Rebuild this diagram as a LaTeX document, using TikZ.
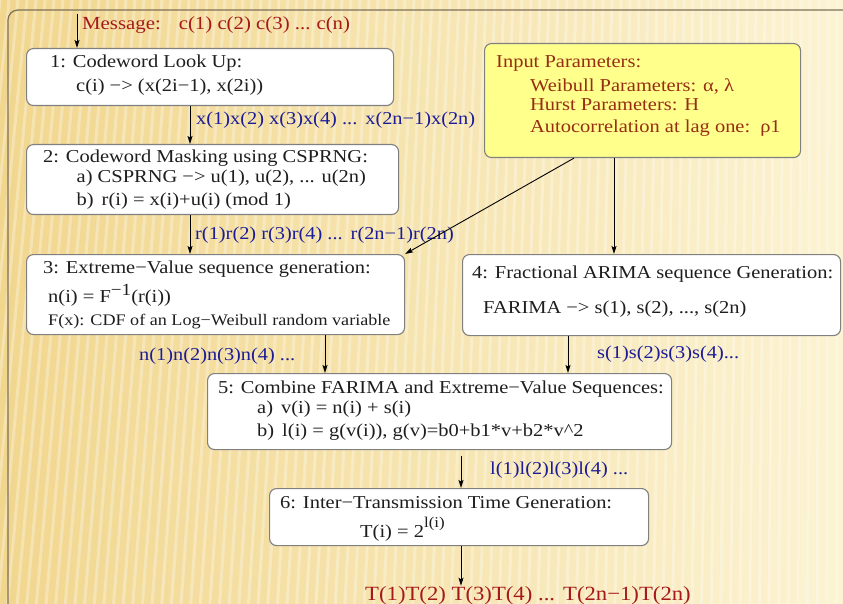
\documentclass[tikz,border=0pt]{standalone}
\usepackage{fontspec}
\setmainfont{Liberation Serif}[FakeStretch=1.125]
\usetikzlibrary{arrows.meta,calc}
\definecolor{bgL}{RGB}{241,214,142}
\definecolor{bgR}{RGB}{252,243,210}
\definecolor{framec}{RGB}{125,112,88}
\definecolor{boxline}{RGB}{128,128,128}
\definecolor{inkc}{RGB}{30,30,30}
\definecolor{bluec}{RGB}{28,28,150}
\definecolor{redc}{RGB}{165,25,25}
\definecolor{parc}{RGB}{150,45,20}
\definecolor{yel}{RGB}{255,255,140}
\tikzset{
  box/.style={draw=boxline, line width=1.1pt, fill=white, rounded corners=7pt,
              anchor=north west, inner sep=0pt},
  txt/.style={anchor=base west, inner sep=0pt, text=inkc, font=\fontsize{18.2}{20}\selectfont},
  ptxt/.style={txt, text=parc},
  lbl/.style={anchor=base west, inner sep=0pt, text=bluec, font=\fontsize{18.1}{20}\selectfont},
  rlbl/.style={lbl, text=redc},
  arr/.style={draw=black, line width=0.9pt, -{Stealth[length=8pt,width=5pt,inset=1.5pt]}},
}
\begin{document}
\begin{tikzpicture}[x=1pt,y=-1pt]
\useasboundingbox (0,0) rectangle (843,604);
% striped background
\begin{scope}
  \clip (0,0) rectangle (843,604);
  \shade[left color=bgL, right color=bgR] (0,0) rectangle (843,604);
  \foreach \i in {0,9,...,900}
    \draw[white, opacity=0.3, line width=3pt] (\i,0) -- ({\i-60*(1-\i/843)},604);
\end{scope}
\draw[framec, line width=1.2pt, rounded corners=10pt] (8,606) -- (8,10) -- (846,10);

% boxes
\node[box, minimum width=367pt, minimum height=57pt] (b1) at (26,48) {};
\node[box, minimum width=372pt, minimum height=70pt] (b2) at (26,144) {};
\node[box, minimum width=378pt, minimum height=80pt] (b3) at (26,254) {};
\node[box, fill=yel, minimum width=316pt, minimum height=114pt] (inp) at (484,43) {};
\node[box, minimum width=378pt, minimum height=81pt] (b4) at (462,254) {};
\node[box, minimum width=464pt, minimum height=76pt] (b5) at (207,373) {};
\node[box, minimum width=379pt, minimum height=57pt] (b6) at (269,488) {};

% box texts
\node[txt] (t1a) at (50,67.7) {1: Codeword Look Up:};
\node[txt] (t1b) at (76,91.7) {c(i) −> (x(2i−1), x(2i))};
\node[txt] (t2a) at (43,163) {2: Codeword Masking using CSPRNG:};
\node[txt] (t2b) at (76.5,183) {a) CSPRNG −> u(1), u(2), ... u(2n)};
\node[txt] (t2c) at (76.5,206) {b)\hspace{8pt}r(i) = x(i)+u(i) (mod 1)};
\node[txt] (t3a) at (43,273) {3: Extreme−Value sequence generation:};
\node[txt] (t3b) at (48,302.7) {n(i) = F\raisebox{0.42em}{\fontsize{17}{17}\selectfont −1}(r(i))};
\node[txt, font=\fontsize{16.1}{18}\selectfont] (t3c) at (48,325) {F(x): CDF of an Log−Weibull random variable};
\node[ptxt] (tpa) at (496,68) {Input Parameters:};
\node[ptxt] (tpb) at (530,92) {Weibull Parameters: α, λ};
\node[ptxt] (tpc) at (530,111) {Hurst Parameters: H};
\node[ptxt] (tpd) at (530,133) {Autocorrelation at lag one:\hspace{10pt}ρ1};
\node[txt] (t4a) at (472,278) {4: Fractional ARIMA sequence Generation:};
\node[txt] (t4b) at (483,313) {FARIMA −> s(1), s(2), ..., s(2n)};
\node[txt] (t5a) at (218,393) {5: Combine FARIMA and Extreme−Value Sequences:};
\node[txt] (t5b) at (257,413) {a)\hspace{8pt}v(i) = n(i) + s(i)};
\node[txt] (t5c) at (257,436) {b)\hspace{8pt}l(i) = g(v(i)), g(v)=b0+b1*v+b2*v\^{}2};
\node[txt] (t6a) at (280,508) {6: Inter−Transmission Time Generation:};
\node[txt] (t6b) at (360,537) {T(i) = 2\raisebox{0.5em}{\fontsize{15}{15}\selectfont l(i)}};

% sequence labels
\node[rlbl, font=\fontsize{18.5}{20}\selectfont] (msg) at (82,30) {Message:\hspace{18pt}c(1) c(2) c(3) ...\hspace{6pt}c(n)};
\node[lbl] (lx) at (196,125) {x(1)x(2) x(3)x(4) ...\hspace{8pt}x(2n−1)x(2n)};
\node[lbl] (lr) at (195,240) {r(1)r(2) r(3)r(4) ...\hspace{8pt}r(2n−1)r(2n)};
\node[lbl] (ln) at (139,360) {n(1)n(2)n(3)n(4) ...};
\node[lbl] (ls) at (597,358) {s(1)s(2)s(3)s(4)...};
\node[lbl] (ll) at (490,474) {l(1)l(2)l(3)l(4) ...};
\node[rlbl, font=\fontsize{20.2}{22}\selectfont] (out) at (365,600) {T(1)T(2) T(3)T(4) ...\hspace{8pt}T(2n−1)T(2n)};

% connectors
\coordinate (msgtop) at (77,14);
\coordinate (a12) at ([xshift=164pt]b1.south west);
\coordinate (a23) at ([xshift=164pt]b2.south west);
\coordinate (ap3) at ([xshift=90pt]inp.south west);
\coordinate (ap4) at ([xshift=130pt]inp.south west);
\coordinate (a35) at ([xshift=299pt]b3.south west);
\coordinate (a45) at ([xshift=106pt]b4.south west);
\coordinate (a56) at ([xshift=254pt,yshift=-6pt]b5.south west);
\coordinate (a6o) at ([xshift=192pt]b6.south west);
\draw[arr] (msgtop) -- (msgtop |- b1.north);
\draw[arr] (a12) -- (a12 |- b2.north);
\draw[arr] (a23) -- (a23 |- b3.north);
\draw[arr] (ap3) -- (b3.north east);
\draw[arr] (ap4) -- (ap4 |- b4.north);
\draw[arr] (a35) -- (a35 |- b5.north);
\draw[arr] (a45) -- (a45 |- b5.north);
\draw[arr] (a56) -- (a56 |- b6.north);
\draw[arr] (a6o) -- (a6o |- out.north);
\end{tikzpicture}
\end{document}
